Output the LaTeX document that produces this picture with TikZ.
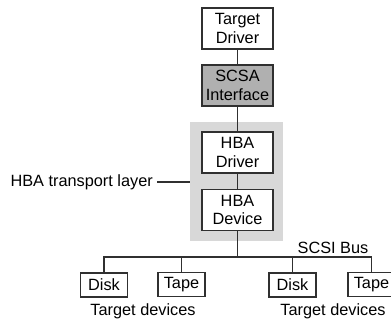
\documentclass[tikz,border=0pt]{standalone}
\usepackage{fontspec}
\setmainfont{Liberation Sans}
\definecolor{lnc}{HTML}{303030}
\definecolor{bgc}{HTML}{D8D8D8}
\definecolor{scsac}{HTML}{B0B0B0}
\begin{document}
\begin{tikzpicture}[x=1pt,y=-1pt,
  every node/.style={font=\fontsize{16.3}{18.5}\selectfont, text=black},
  bigbox/.style={draw=lnc, line width=1.2pt, fill=white, minimum width=71pt, minimum height=41pt, inner sep=0pt, align=center},
  smallbox/.style={draw=lnc, line width=1.2pt, fill=white, minimum width=47pt, minimum height=24pt, inner sep=0pt},
  conn/.style={draw=lnc, line width=1.2pt},
  lbl/.style={inner sep=0pt}]
\useasboundingbox (0,0) rectangle (391,322);
\clip (0,0) rectangle (391,322);
% grey layer background
\fill[bgc] (190,122) rectangle (283,241);
\coordinate (layerw) at (190,182);
\node[bigbox] (td) at (237.5,28.5) {Target\\Driver};
\node[bigbox, fill=scsac] (scsa) at (237.5,85.5) {SCSA\\Interface};
\node[bigbox] (hd) at (237.5,152.5) {HBA\\Driver};
\node[bigbox] (hv) at (237.5,210) {HBA\\Device};
\coordinate (bus) at (237.5,257);
\node[smallbox] (d1) at (104,285) {Disk};
\node[smallbox] (t1) at (181.5,284.5) {Tape};
\node[smallbox] (d2) at (292.5,285) {Disk};
\node[smallbox] (t2) at (371.5,284.5) {Tape};
\node[lbl] (bl) at (333,248) {SCSI Bus};
\node[lbl] (tg1) at (143,311) {Target devices};
\node[lbl] (tg2) at (333,311) {Target devices};
\node[lbl, anchor=east] (tl) at (153,182) {HBA transport layer};
\draw[conn] (td) -- (scsa);
\draw[conn] (scsa) -- (hd);
\draw[conn] (hd) -- (hv);
\draw[conn] (hv) -- (bus);
\draw[conn] (d1.north) |- (bus) -| (t2.north);
\draw[conn] (t1.north) -- (t1.north |- bus);
\draw[conn] (d2.north) -- (d2.north |- bus);
\draw[conn] ([xshift=4pt]tl.east) -- (layerw);
\end{tikzpicture}
\end{document}
